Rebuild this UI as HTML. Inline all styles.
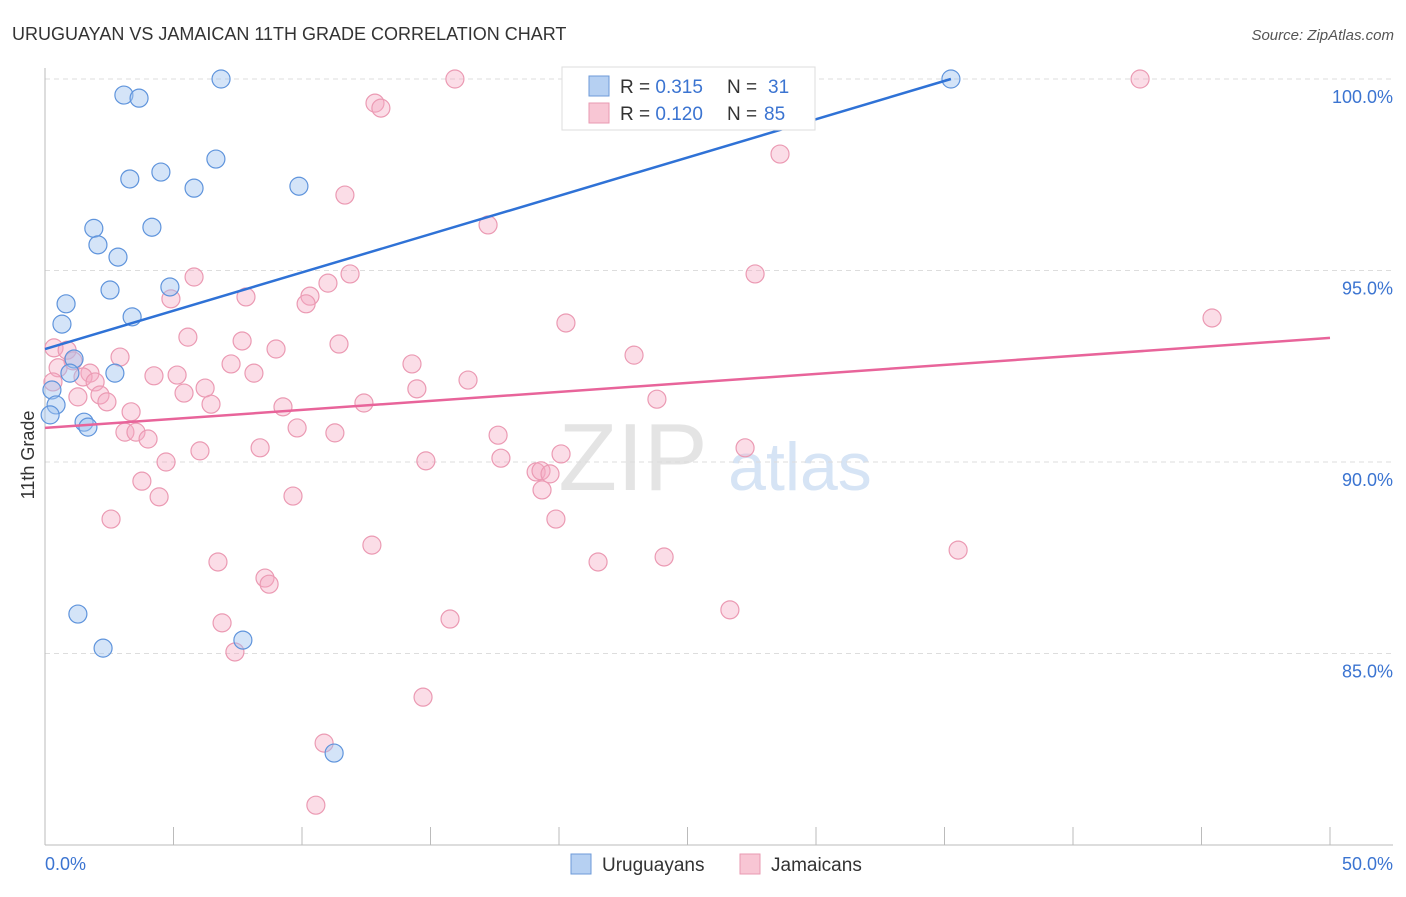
<!DOCTYPE html>
<html><head><meta charset="utf-8"><style>
body{margin:0;background:#fff;font-family:"Liberation Sans",sans-serif;}
svg text{font-family:"Liberation Sans",sans-serif;}
</style></head><body>
<svg width="1406" height="892" viewBox="0 0 1406 892">
<text x="12" y="40" font-size="18" fill="#333">URUGUAYAN VS JAMAICAN 11TH GRADE CORRELATION CHART</text>
<text x="1394" y="40" font-size="15" fill="#555" font-style="italic" text-anchor="end">Source: ZipAtlas.com</text>
<g>
<text x="633" y="490" font-size="96" fill="#e4e4e4" font-family="Liberation Serif,serif" text-anchor="middle">ZIP</text>
<text x="800" y="490" font-size="68" fill="#d6e4f5" text-anchor="middle">atlas</text>
</g>
<g id="grid"></g>
<g id="axes"></g>
<text transform="translate(34,455) rotate(-90)" font-size="18" fill="#333" text-anchor="middle">11th Grade</text>
<g id="marks"></g>
<g>
<rect x="562" y="67" width="253" height="63" fill="#fff" stroke="#ddd"/>
<rect x="589" y="76" width="20" height="20" fill="#b6d0f2" stroke="#6d9ad8"/>
<rect x="589" y="103" width="20" height="20" fill="#f8c6d4" stroke="#e99ab2"/>
<text x="620" y="93" font-size="19" fill="#333">R = <tspan fill="#3b74d1">0.315</tspan><tspan x="727">N = </tspan><tspan fill="#3b74d1" x="768">31</tspan></text>
<text x="620" y="120" font-size="19" fill="#333">R = <tspan fill="#3b74d1">0.120</tspan><tspan x="727">N = </tspan><tspan fill="#3b74d1" x="764">85</tspan></text>
</g>
<g>
<rect x="571" y="854" width="20" height="20" fill="#b6d0f2" stroke="#6d9ad8"/>
<text x="602" y="871" font-size="19" fill="#333">Uruguayans</text>
<rect x="740" y="854" width="20" height="20" fill="#f8c6d4" stroke="#e99ab2"/>
<text x="771" y="871" font-size="19" fill="#333">Jamaicans</text>
</g>
</svg>
<script>
const yTicks=[100,95,90,85];
const yTickLabels=["100.0%","95.0%","90.0%","85.0%"];
const xTickVals=[0,5,10,15,20,25,30,35,40,45,50];
const xEndLabels=["0.0%","50.0%"];
const blueX=[6.85,3.07,3.66,6.65,3.3,4.51,5.8,9.88,1.9,4.16,2.06,2.84,2.53,4.86,0.82,3.39,0.66,1.13,0.97,2.72,0.27,0.43,0.2,1.52,1.67,1.28,2.26,7.7,11.25,23.54,35.25];
const blueY=[100,99.58,99.5,97.91,97.39,97.57,97.15,97.2,96.1,96.13,95.67,95.35,94.49,94.57,94.13,93.79,93.6,92.69,92.32,92.32,91.88,91.49,91.23,91.04,90.91,86.03,85.14,85.35,82.4,100,100];
const pinkX=[15.95,26.5,42.61,12.84,13.07,28.6,11.67,17.24,5.8,27.63,11.87,11.01,10.31,10.16,4.9,7.82,45.41,20.27,5.56,7.67,11.44,0.35,0.86,8.99,2.92,22.92,1.09,7.24,14.28,0.51,1.75,1.48,8.13,4.24,5.14,16.46,1.95,0.31,6.23,5.41,14.47,1.28,2.14,2.41,6.46,23.81,12.41,9.26,3.35,9.81,3.11,3.54,11.28,4.01,17.63,8.37,6.03,27.24,20.08,4.71,14.82,17.74,19.11,19.3,19.65,3.77,19.34,4.44,9.65,2.57,19.88,12.72,35.53,24.09,21.52,6.73,8.56,8.72,6.89,15.76,26.65,7.39,14.71,10.86,10.54];
const pinkY=[100,100,100,99.37,99.24,98.04,96.97,96.19,94.83,94.91,94.91,94.67,94.33,94.13,94.26,94.31,93.76,93.63,93.26,93.16,93.08,92.98,92.92,92.95,92.74,92.79,92.64,92.56,92.56,92.46,92.32,92.22,92.32,92.25,92.27,92.14,92.09,92.09,91.93,91.8,91.91,91.7,91.75,91.57,91.51,91.64,91.54,91.44,91.31,90.89,90.78,90.78,90.76,90.6,90.7,90.37,90.29,90.37,90.21,90.0,90.03,90.1,89.74,89.77,89.69,89.5,89.27,89.09,89.11,88.51,88.51,87.83,87.7,87.52,87.39,87.39,86.97,86.81,85.8,85.9,86.14,85.04,83.86,82.66,81.04];
const blueLine=[[0,92.95],[35.25,100]];
const pinkLine=[[0,90.89],[50,93.24]];
const NS="http://www.w3.org/2000/svg";
const xs=v=>45+v*25.7, ys=v=>79+(100-v)*38.3;
function mk(tag,attrs,parent){const e=document.createElementNS(NS,tag);for(const k in attrs)e.setAttribute(k,attrs[k]);parent.appendChild(e);return e;}
const grid=document.getElementById('grid'),axes=document.getElementById('axes'),marks=document.getElementById('marks');
yTicks.forEach((t,i)=>{
 const l=mk('line',{x1:45,x2:1393,y1:ys(t),y2:ys(t),stroke:'#ddd','stroke-dasharray':'5,4'},grid);
 
 
 const tx=mk('text',{x:1393,y:ys(t)+24,'font-size':18,fill:'#3b74d1','text-anchor':'end'},grid);
 tx.textContent=yTickLabels[i];
 
 
});
const ax=mk('line',{x1:45,x2:45,y1:68,y2:845,stroke:'#bbb'},axes);


const bx=mk('line',{x1:45,x2:1393,y1:845,y2:845,stroke:'#bbb'},axes);


xTickVals.forEach(v=>{
 const t=mk('line',{x1:xs(v),x2:xs(v),y1:827,y2:845,stroke:'#bbb'},axes);
 
 
});
const xl0=mk('text',{x:45,y:870,'font-size':18,fill:'#3b74d1'},axes);xl0.textContent=xEndLabels[0];


const xl1=mk('text',{x:1393,y:870,'font-size':18,fill:'#3b74d1','text-anchor':'end'},axes);xl1.textContent=xEndLabels[1];


pinkX.forEach((x,i)=>{
 const c=mk('circle',{cx:xs(x),cy:ys(pinkY[i]),r:9,fill:'rgba(244,170,194,0.4)',stroke:'#eb9ab3','stroke-width':1.2},marks);
 
 
});
blueX.forEach((x,i)=>{
 const c=mk('circle',{cx:xs(x),cy:ys(blueY[i]),r:9,fill:'rgba(160,196,240,0.45)',stroke:'#5f94dc','stroke-width':1.2},marks);
 
 
});
const bl=mk('line',{x1:xs(blueLine[0][0]),y1:ys(blueLine[0][1]),x2:xs(blueLine[1][0]),y2:ys(blueLine[1][1]),stroke:'#2f72d6','stroke-width':2.5},marks);


const pl=mk('line',{x1:xs(pinkLine[0][0]),y1:ys(pinkLine[0][1]),x2:xs(pinkLine[1][0]),y2:ys(pinkLine[1][1]),stroke:'#e8649a','stroke-width':2.5},marks);


</script>
</body></html>
